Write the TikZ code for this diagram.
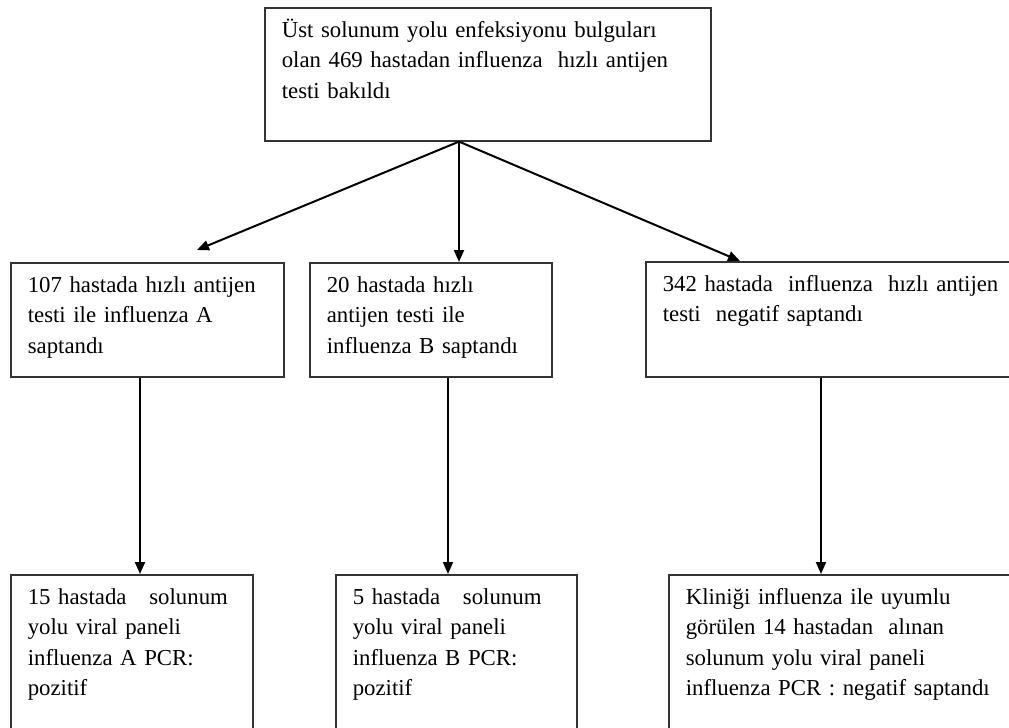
\documentclass[tikz,border=0pt]{standalone}
\usepackage{fontspec}
\setmainfont{Liberation Serif}
\usetikzlibrary{arrows.meta}

\begin{document}
\begin{tikzpicture}[x=0.5pt,y=-0.5pt,>={Triangle[length=6pt,width=5pt]},
                    box node/.style={rectangle,draw=black!80,line width=0.8pt,anchor=north west,align=left,
                    inner xsep=8.5pt,inner ysep=3pt,text height=11.75pt,font=\fontsize{11.4}{15.25}\selectfont}]

  \useasboundingbox (0,0) rectangle (1009,728);
  \clip (0,0) rectangle (1009,728);

  \node[box node,text width=206pt,text depth=48.75pt] (1) at (264,7)
    {Üst solunum yolu enfeksiyonu bulguları\\olan 469 hastadan influenza\ \ hızlı antijen\\testi bakıldı};
  \node[box node,text width=119.5pt,text depth=39.25pt] (2) at (10,262)
    {107 hastada hızlı antijen\\testi ile influenza A\\saptandı};
  \node[box node,text width=104pt,text depth=39.25pt] (3) at (309,262)
    {20 hastada hızlı\\antijen testi ile\\influenza B saptandı};
  \node[box node,text width=180.5pt,text depth=39.75pt] (4) at (645,261)
    {342 hastada\ \ influenza\ \ hızlı antijen\\testi\ \ negatif saptandı};
  \node[box node,text width=104pt,text depth=75.25pt] (5) at (10,574)
    {15 hastada\ \ \ solunum\\yolu viral paneli\\influenza A PCR:\\pozitif};
  \node[box node,text width=103.5pt,text depth=75.25pt] (6) at (335,574)
    {5 hastada\ \ \ solunum\\yolu viral paneli\\influenza B PCR:\\pozitif};
  \node[box node,text width=169pt,text depth=75.25pt] (7) at (668,574)
    {Kliniği influenza ile uyumlu\\görülen 14 hastadan\ \ alınan\\solunum yolu viral paneli\\influenza PCR : negatif saptandı};

  % arrow positions
  \coordinate (xa) at (459,0);
  \coordinate (xr) at (740,0);
  \coordinate (u1) at (197,250);
  \coordinate (xb) at (140,0);
  \coordinate (xc) at (448,0);
  \coordinate (xd) at (821,0);

  \path[->,line width=1pt]
    (1.south -| xa) edge (u1)
    (1.south -| xa) edge (3.north -| xa)
    (1.south -| xa) edge (4.north -| xr)
    (2.south -| xb) edge (5.north -| xb)
    (3.south -| xc) edge (6.north -| xc)
    (4.south -| xd) edge (7.north -| xd);
\end{tikzpicture}
\end{document}
